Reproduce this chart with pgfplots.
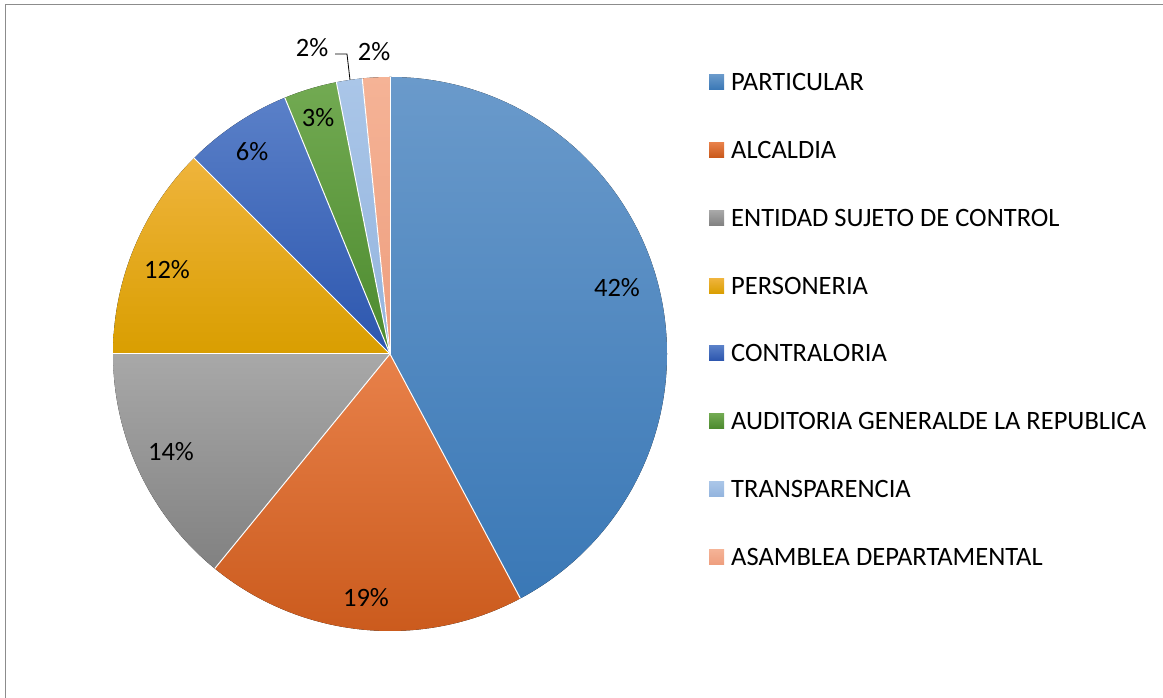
\documentclass[border=0pt]{standalone}
\usepackage{pgfplots}
\pgfplotsset{compat=1.18}
\usepackage{fontspec}
\setmainfont{Carlito}
\definecolor{c1t}{HTML}{6A9ACB}\definecolor{c1b}{HTML}{3A78B6}
\definecolor{c2t}{HTML}{E8814A}\definecolor{c2b}{HTML}{C9581A}
\definecolor{c3t}{HTML}{A8A8A8}\definecolor{c3b}{HTML}{818181}
\definecolor{c4t}{HTML}{EFB43C}\definecolor{c4b}{HTML}{D99E00}
\definecolor{c5t}{HTML}{5A80C8}\definecolor{c5b}{HTML}{2C56AE}
\definecolor{c6t}{HTML}{72AA52}\definecolor{c6b}{HTML}{4C8A2E}
\definecolor{c7t}{HTML}{AAC6E8}\definecolor{c7b}{HTML}{93B4DE}
\definecolor{c8t}{HTML}{F5B396}\definecolor{c8b}{HTML}{EE9E7E}
\definecolor{framegray}{HTML}{8C8C8C}
% slice values (percent), clockwise from 12 o'clock
\def\vA{42.2}\def\vB{18.7}\def\vC{14.1}\def\vD{12.5}
\def\vE{6.3}\def\vF{3.1}\def\vG{1.5}\def\vH{1.6}
\newcommand\slice[4]{%
  \fill[top color=#3,bottom color=#4] (axis cs:390,344) -- ([shift={(#1:277pt)}]axis cs:390,344)
     arc[start angle=#1,end angle=#2,radius=277pt] -- cycle;
  \draw[white,line width=1pt] ([shift={(#1:277pt)}]axis cs:390,344) -- (axis cs:390,344);}
\newcommand\legitem[4]{%
  \fill[top color=#2,bottom color=#3] (axis cs:709,#1-7.5) rectangle (axis cs:724,#1+7.5);
  \node[anchor=base west,inner sep=0pt,font=\fontsize{26.5}{30}\selectfont] at (axis cs:731,#1-8.5) {#4};}
\newcommand\plab[3]{\node[anchor=base,inner sep=0pt,font=\fontsize{26.5}{30}\selectfont] at (axis cs:#1,#2-8.5) {#3};}
\begin{document}
\begin{tikzpicture}
\useasboundingbox (0,0) rectangle (1163pt,698pt);
\pgfmathsetmacro\aA{90}
\pgfmathsetmacro\aB{\aA-\vA*3.6}
\pgfmathsetmacro\aC{\aB-\vB*3.6}
\pgfmathsetmacro\aD{\aC-\vC*3.6}
\pgfmathsetmacro\aE{\aD-\vD*3.6}
\pgfmathsetmacro\aF{\aE-\vE*3.6}
\pgfmathsetmacro\aG{\aF-\vF*3.6}
\pgfmathsetmacro\aH{\aG-\vG*3.6}
\pgfmathsetmacro\aI{\aH-\vH*3.6}
\begin{axis}[x=1pt,y=1pt,xmin=0,xmax=1163,ymin=0,ymax=698,hide axis,clip=false,
  anchor=south west,at={(0,0)}]
\addplot[draw=none] coordinates {(0,0) (1163,698)};
\slice{\aA}{\aB}{c1t}{c1b}
\slice{\aB}{\aC}{c2t}{c2b}
\slice{\aC}{\aD}{c3t}{c3b}
\slice{\aD}{\aE}{c4t}{c4b}
\slice{\aE}{\aF}{c5t}{c5b}
\slice{\aF}{\aG}{c6t}{c6b}
\slice{\aG}{\aH}{c7t}{c7b}
\slice{\aH}{\aI}{c8t}{c8b}
\draw[white,line width=1pt] ([shift={(\aI:277pt)}]axis cs:390,344) -- (axis cs:390,344);
\plab{617}{410}{42\%}
\plab{366}{100}{19\%}
\plab{171}{246}{14\%}
\plab{167}{428}{12\%}
\plab{252}{546}{6\%}
\plab{318}{580}{3\%}
\plab{312}{650}{2\%}
\plab{374}{646}{2\%}
\draw[black,line width=0.8pt] (axis cs:335,644) -- (axis cs:347,644) -- (axis cs:350,618);
\legitem{616}{c1t}{c1b}{PARTICULAR}
\legitem{548}{c2t}{c2b}{ALCALDIA}
\legitem{480}{c3t}{c3b}{ENTIDAD SUJETO DE CONTROL}
\legitem{412}{c4t}{c4b}{PERSONERIA}
\legitem{345}{c5t}{c5b}{CONTRALORIA}
\legitem{277}{c6t}{c6b}{AUDITORIA GENERALDE LA REPUBLICA}
\legitem{209}{c7t}{c7b}{TRANSPARENCIA}
\legitem{141}{c8t}{c8b}{ASAMBLEA DEPARTAMENTAL}
\draw[framegray,line width=1.8pt] (axis cs:5.5,-5) -- (axis cs:5.5,693.5) -- (axis cs:1170,693.5);
\end{axis}
\end{tikzpicture}
\end{document}
